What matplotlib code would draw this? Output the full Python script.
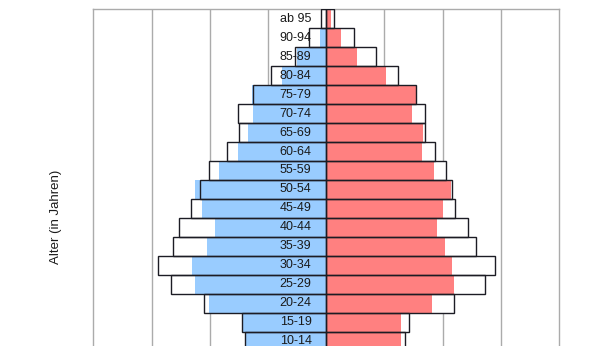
import matplotlib
matplotlib.use("Agg")
import matplotlib.pyplot as plt
import numpy as np

# ── Data (top row first, values in grid units) ─────────────────────
ages = ["ab 95", "90-94", "85-89", "80-84", "75-79", "70-74", "65-69",
        "60-64", "55-59", "50-54", "45-49", "40-44", "35-39", "30-34",
        "25-29", "20-24", "15-19", "10-14"]

# filled bars (current)
maenner = [0.01, 0.10, 0.50, 0.75, 1.27, 1.26, 1.35, 1.51, 1.84, 2.25,
           2.14, 1.91, 2.04, 2.30, 2.26, 2.02, 1.43, 1.38]
frauen = [0.09, 0.25, 0.53, 1.02, 1.55, 1.48, 1.66, 1.65, 1.85, 2.14,
          2.01, 1.90, 2.05, 2.17, 2.20, 1.81, 1.29, 1.28]

# outlined bars (comparison)
maenner_vgl = [0.08, 0.30, 0.53, 0.94, 1.26, 1.51, 1.49, 1.70, 2.02, 2.17,
               2.33, 2.52, 2.63, 2.89, 2.66, 2.09, 1.44, 1.40]
frauen_vgl = [0.14, 0.47, 0.85, 1.23, 1.55, 1.70, 1.70, 1.87, 2.06, 2.16,
              2.21, 2.44, 2.58, 2.90, 2.73, 2.20, 1.42, 1.35]

# ── Style ──────────────────────────────────────────────────────────
plt.rcParams.update({
    "font.family": "Liberation Sans",
    "font.size": 9,
})

BLUE = "#99ccff"
RED = "#ff8080"
EDGE = "#1c1c24"
GRID = "#ababab"
TEXT = "#1a1a1a"

# ── Figure: axes extends slightly below the cropped bottom ─────────
W, H = 612, 346
fig = plt.figure(figsize=(W / 100, H / 100), dpi=100)
row_px = 18.96
top_px, left_px, right_px = 9.3, 93.3, 559.0
ax_h = len(ages) * row_px / H
ax_top = 1 - top_px / H
ax = fig.add_axes([left_px / W, ax_top - ax_h, (right_px - left_px) / W, ax_h])

y = np.arange(len(ages))
m = np.array(maenner)
f = np.array(frauen)
mv = np.array(maenner_vgl)
fv = np.array(frauen_vgl)

# white fill of comparison bars (hides gridlines)
ax.barh(y, -mv, height=1.0, color="white", zorder=1)
ax.barh(y, fv, height=1.0, color="white", zorder=1)

# filled bars
ax.barh(y, -m, height=1.0, color=BLUE, zorder=2)
ax.barh(y, f, height=1.0, color=RED, zorder=2)

# comparison outlines on top
ax.barh(y, -mv, height=1.0, facecolor="none", edgecolor=EDGE,
        linewidth=1.0, zorder=3)
ax.barh(y, fv, height=1.0, facecolor="none", edgecolor=EDGE,
        linewidth=1.0, zorder=3)

# age labels next to the centre axis
for yi, lab in zip(y, ages):
    ax.text(-0.25, yi, lab, ha="right", va="center", fontsize=9,
            color=TEXT, zorder=4)

for gx in [-3, -2, -1, 1, 2, 3]:
    ax.axvline(gx, color=GRID, linewidth=1.0, zorder=0)

ax.set_xlim(-4, 4)
ax.set_ylim(len(ages) - 0.5, -0.5)
ax.set_xticks([])
ax.set_yticks([])
for s in ax.spines.values():
    s.set_color(GRID)
    s.set_linewidth(1.0)

fig.text(56 / W, 1 - 217 / H, "Alter (in Jahren)", rotation=90,
         ha="center", va="center", fontsize=9.5, color=TEXT)

fig.savefig("out.png", dpi=100)
plt.close()
